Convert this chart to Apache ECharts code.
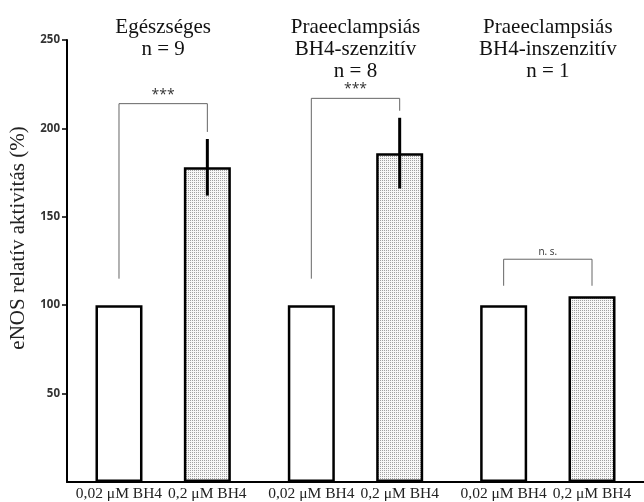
<!DOCTYPE html>
<html>
<head>
<meta charset="utf-8">
<script src="https://cdn.jsdelivr.net/npm/echarts@6/dist/echarts.min.js"></script>
<style>html,body{margin:0;padding:0;background:#fff;}#chart{width:644px;height:502px;}</style>
</head>
<body>
<div id="chart"></div>
<script>
// ---- data ----
const groups = ['Egészséges\nn = 9', 'Praeeclampsiás\nBH4-szenzitív\nn = 8', 'Praeeclampsiás\nBH4-inszenzitív\nn = 1'];
const doseLabels = ['0,02 μM BH4', '0,2 μM BH4'];
const lowDose = [100, 100, 100];
const highDose = [178, 186, 105];
const highErr = [16, 20, 0];
const sigText = ['***', '***', 'n. s.'];
const sigLevel = [214, 217, 126];
const sigLowEnd = [115, 115, 111];
const sigHighEnd = [198, 210, 111];
const yTicks = [0, 50, 100, 150, 200, 250];

// ---- style ----
const BAR_W = 47;
const BAR_GAP = 0.88;
const OFFSET = (BAR_W + BAR_W * BAR_GAP) / 2;
const SERIF = '"Liberation Serif", "Times New Roman", serif';

const pc = document.createElement('canvas');
pc.width = 2; pc.height = 2;
const pctx = pc.getContext('2d');
pctx.fillStyle = '#f7f7f7'; pctx.fillRect(0, 0, 2, 2);
pctx.fillStyle = '#a0a0a0'; pctx.fillRect(0, 0, 1, 1);

const chart = echarts.init(document.getElementById('chart'), null, {renderer: 'canvas'});

const option = {
  animation: false,
  backgroundColor: '#fff',
  grid: {left: 67, right: 0, top: 40, bottom: 20},
  xAxis: [{
    type: 'category', data: groups, position: 'bottom',
    axisLine: {lineStyle: {color: '#000', width: 2}},
    axisTick: {show: false}, axisLabel: {show: false}
  }, {
    type: 'category', data: groups, position: 'top',
    axisLine: {show: false}, axisTick: {show: false},
    axisLabel: {show: true, verticalAlign: 'top', margin: 24, fontFamily: SERIF, fontSize: 21, lineHeight: 22, color: '#111', interval: 0}
  }],
  yAxis: {
    type: 'value', min: yTicks[0], max: yTicks[yTicks.length - 1], interval: 50,
    name: 'eNOS relatív aktivitás (%)', nameLocation: 'middle', nameGap: 26,
    nameTextStyle: {fontFamily: SERIF, fontSize: 21, color: '#222', padding: [0, 0, 0, 46]},
    splitLine: {show: false},
    axisLine: {show: true, lineStyle: {color: '#000', width: 2}},
    axisTick: {show: true, length: 5, lineStyle: {color: '#000', width: 1.5}},
    axisLabel: {showMinLabel: false, margin: 7, fontFamily: '"Open Sans", sans-serif', fontWeight: 'bold', fontSize: 11.5, color: '#333'}
  },
  series: [{
    name: doseLabels[0], type: 'bar', data: lowDose, barWidth: BAR_W, barGap: (BAR_GAP * 100) + '%',
    itemStyle: {color: '#fff', borderColor: '#000', borderWidth: 2.5},
    label: {show: true, position: 'bottom', distance: 4, formatter: doseLabels[0], fontFamily: SERIF, fontSize: 15.5, color: '#222'}
  }, {
    name: doseLabels[1], type: 'bar', data: highDose, barWidth: BAR_W,
    itemStyle: {color: {image: pc, repeat: 'repeat'}, borderColor: '#000', borderWidth: 2.5},
    label: {show: true, position: 'bottom', distance: 4, formatter: doseLabels[1], fontFamily: SERIF, fontSize: 15.5, color: '#222'}
  }, {
    type: 'custom', z: 5,
    data: highDose.map((v, i) => [i, v, highErr[i]]),
    encode: {x: 0, y: 1},
    renderItem: function (params, api) {
      const i = api.value(0), v = api.value(1), e = api.value(2);
      if (!e) return null;
      const c = api.coord([i, v]);
      const cx = c[0] + OFFSET;
      const t = api.coord([i, v + e])[1];
      const b = api.coord([i, v - e])[1];
      return {type: 'line', shape: {x1: cx, y1: t, x2: cx, y2: b}, style: {stroke: '#000', lineWidth: 3}};
    }
  }, {
    type: 'custom', z: 6,
    data: sigLevel.map((l, i) => [i, l, sigLowEnd[i], sigHighEnd[i]]),
    encode: {x: 0, y: 1},
    renderItem: function (params, api) {
      const i = api.value(0);
      const c = api.coord([i, api.value(1)]);
      const xl = c[0] - OFFSET, xr = c[0] + OFFSET, y = c[1];
      const yl = api.coord([i, api.value(2)])[1];
      const yr = api.coord([i, api.value(3)])[1];
      const txt = sigText[params.dataIndex];
      const ns = txt.indexOf('*') < 0;
      return {type: 'group', children: [
        {type: 'polyline', shape: {points: [[xl, yl], [xl, y], [xr, y], [xr, yr]]}, style: {stroke: '#666', lineWidth: 1, fill: null}},
        {type: 'text', x: c[0], y: y - 2, style: {text: txt, align: 'center', verticalAlign: 'bottom', fontFamily: '"Open Sans", sans-serif', fontSize: ns ? 10 : 14, fill: '#333'}}
      ]};
    }
  }]
};
chart.setOption(option);
</script>
</body>
</html>
